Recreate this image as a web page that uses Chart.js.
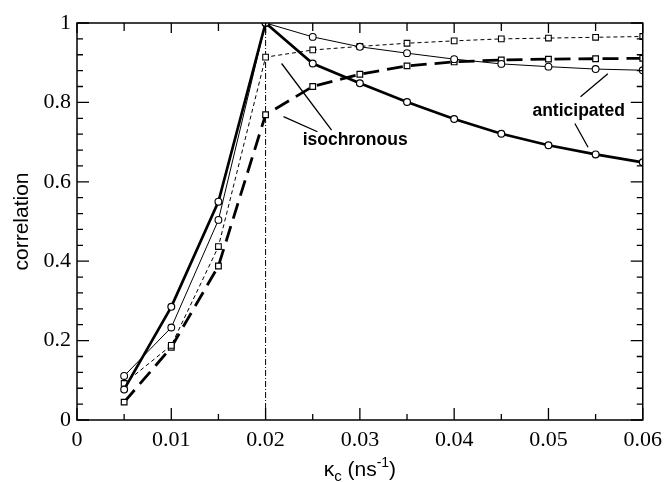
<!DOCTYPE html>
<html>
<head>
<meta charset="utf-8">
<script src="https://cdn.jsdelivr.net/npm/chart.js@4.4.0/dist/chart.umd.min.js"></script>
<style>
  html, body { margin: 0; padding: 0; background: #fff; }
  #wrap { width: 669px; height: 482px; }
</style>
</head>
<body>
<div id="wrap"><canvas id="corr" width="669" height="482"></canvas></div>
<script>
// coupling strength kappa_c (ns^-1)
const kappa = [0.005, 0.01, 0.015, 0.02, 0.025, 0.03, 0.035, 0.04, 0.045, 0.05, 0.055, 0.06];

// anticipated (circles, solid) / isochronous (squares, dashed)
const anticipatedThick = [0.077, 0.285, 0.550, 1.0, 0.898, 0.848, 0.801, 0.758, 0.721, 0.692, 0.669, 0.649];
const anticipatedThin  = [0.111, 0.233, 0.504, 1.0, 0.965, 0.940, 0.924, 0.909, 0.897, 0.890, 0.884, 0.881];
const isochronousThin  = [0.092, 0.188, 0.437, 0.914, 0.932, 0.941, 0.949, 0.955, 0.960, 0.962, 0.964, 0.966];
const isochronousThick = [0.045, 0.183, 0.388, 0.769, 0.840, 0.871, 0.892, 0.902, 0.907, 0.909, 0.910, 0.911];

// dash-dot marker at kappa = 0.02
const markerX = [0.02, 0.02];
const markerY = [0, 1];

// tick marks
const xMajor = [0, 0.01, 0.02, 0.03, 0.04, 0.05, 0.06];
const xMinor = [0.005, 0.015, 0.025, 0.035, 0.045, 0.055];
const yMajor = [0, 0.2, 0.4, 0.6, 0.8, 1];
const yMinor = [0.04, 0.08, 0.12, 0.16, 0.24, 0.28, 0.32, 0.36, 0.44, 0.48, 0.52, 0.56,
                0.64, 0.68, 0.72, 0.76, 0.84, 0.88, 0.92, 0.96];

// text labels with leader lines (data coords)
const notes = [
  { text: 'isochronous', x: 0.0295, y: 0.705,
    leaders: [[0.0219, 0.764, 0.0255, 0.726], [0.0217, 0.898, 0.0270, 0.730]] },
  { text: 'anticipated', x: 0.0532, y: 0.777,
    leaders: [[0.0534, 0.814, 0.0563, 0.872], [0.0528, 0.747, 0.0542, 0.687]] }
];

const pts = arr => kappa.map((k, i) => ({ x: k, y: arr[i] }));

const SANS = '"Liberation Sans", Arial, Helvetica, sans-serif';
const SERIF = '"Liberation Serif", "Times New Roman", serif';

const decorations = {
  id: 'decorations',
  beforeDraw(chart) {
    const ctx = chart.ctx;
    ctx.save();
    ctx.fillStyle = '#fff';
    ctx.fillRect(0, 0, chart.width, chart.height);
    ctx.restore();
  },
  afterDraw(chart) {
    const { ctx, chartArea: a, scales: { x, y } } = chart;
    ctx.save();
    ctx.strokeStyle = '#000';
    ctx.fillStyle = '#000';

    // frame
    ctx.lineWidth = 1.5;
    ctx.strokeRect(a.left, a.top, a.right - a.left, a.bottom - a.top);

    // inward ticks on all four sides
    ctx.lineWidth = 1.3;
    ctx.beginPath();
    xMajor.forEach(v => {
      const px = x.getPixelForValue(v);
      ctx.moveTo(px, a.bottom); ctx.lineTo(px, a.bottom - 12);
      ctx.moveTo(px, a.top); ctx.lineTo(px, a.top + 10);
    });
    xMinor.forEach(v => {
      const px = x.getPixelForValue(v);
      ctx.moveTo(px, a.bottom); ctx.lineTo(px, a.bottom - 6);
      ctx.moveTo(px, a.top); ctx.lineTo(px, a.top + 8);
    });
    yMajor.forEach(v => {
      const py = y.getPixelForValue(v);
      ctx.moveTo(a.left, py); ctx.lineTo(a.left + 12, py);
      ctx.moveTo(a.right, py); ctx.lineTo(a.right - 12, py);
    });
    yMinor.forEach(v => {
      const py = y.getPixelForValue(v);
      ctx.moveTo(a.left, py); ctx.lineTo(a.left + 6, py);
      ctx.moveTo(a.right, py); ctx.lineTo(a.right - 6, py);
    });
    ctx.stroke();

    // annotations
    ctx.lineWidth = 1.3;
    ctx.font = 'bold 17.5px ' + SANS;
    ctx.textAlign = 'center';
    ctx.textBaseline = 'middle';
    notes.forEach(n => {
      ctx.beginPath();
      n.leaders.forEach(l => {
        ctx.moveTo(x.getPixelForValue(l[0]), y.getPixelForValue(l[1]));
        ctx.lineTo(x.getPixelForValue(l[2]), y.getPixelForValue(l[3]));
      });
      ctx.stroke();
      ctx.fillText(n.text, x.getPixelForValue(n.x), y.getPixelForValue(n.y));
    });

    // y title
    ctx.save();
    ctx.translate(22, (a.top + a.bottom) / 2);
    ctx.rotate(-Math.PI / 2);
    ctx.font = '21px ' + SANS;
    ctx.fillText('correlation', 0, 0);
    ctx.restore();

    // x title: kappa_c (ns^-1)
    const parts = [
      ['\u03ba', 21, 0], ['c', 15, 5], [' (ns', 21, 0], ['-1', 14, -9], [')', 21, 0]
    ];
    ctx.textAlign = 'left';
    ctx.textBaseline = 'alphabetic';
    let total = 0;
    parts.forEach(p => { ctx.font = p[1] + 'px ' + SANS; total += ctx.measureText(p[0]).width; });
    let cx = (a.left + a.right) / 2 - total / 2;
    const base = 476;
    parts.forEach(p => {
      ctx.font = p[1] + 'px ' + SANS;
      ctx.fillText(p[0], cx, base + p[2]);
      cx += ctx.measureText(p[0]).width;
    });

    ctx.restore();
  }
};

const fmt = v => String(+v.toFixed(3));

new Chart(document.getElementById('corr'), {
  type: 'scatter',
  data: {
    datasets: [
      {
        label: 'anticipated (thick)', data: pts(anticipatedThick), showLine: true,
        borderColor: '#000', borderWidth: 2.7, pointStyle: 'circle', pointRadius: 3.4,
        pointBorderWidth: 1.2, pointBackgroundColor: '#fff', pointBorderColor: '#000'
      },
      {
        label: 'anticipated (thin)', data: pts(anticipatedThin), showLine: true,
        borderColor: '#000', borderWidth: 1, pointStyle: 'circle', pointRadius: 3.4,
        pointBorderWidth: 1.1, pointBackgroundColor: '#fff', pointBorderColor: '#000'
      },
      {
        label: 'isochronous (thin)', data: pts(isochronousThin), showLine: true,
        borderColor: '#000', borderWidth: 1, borderDash: [4, 3], pointStyle: 'rect',
        pointRadius: 4, pointBorderWidth: 1.1, pointBackgroundColor: '#fff', pointBorderColor: '#000'
      },
      {
        label: 'isochronous (thick)', data: pts(isochronousThick), showLine: true,
        borderColor: '#000', borderWidth: 2.8, borderDash: [16, 8], pointStyle: 'rect',
        pointRadius: 4, pointBorderWidth: 1.2, pointBackgroundColor: '#fff', pointBorderColor: '#000'
      },
      {
        label: 'marker', data: markerX.map((v, i) => ({ x: v, y: markerY[i] })), showLine: true,
        borderColor: '#000', borderWidth: 1, borderDash: [6, 2, 1, 2], pointRadius: 0
      }
    ]
  },
  options: {
    responsive: false,
    animation: false,
    layout: { padding: { top: 23, right: 25, left: 0, bottom: 0 } },
    plugins: { legend: { display: false }, tooltip: { enabled: false } },
    elements: { line: { tension: 0 } },
    scales: {
      x: {
        type: 'linear', min: 0, max: 0.06,
        grid: { display: false, drawTicks: false },
        border: { display: false },
        ticks: {
          stepSize: 0.01, padding: 7, color: '#000', maxRotation: 0, autoSkip: false,
          font: { family: SERIF, size: 22 }, callback: v => fmt(v)
        },
        afterFit: s => { s.height = 62; }
      },
      y: {
        type: 'linear', min: 0, max: 1,
        grid: { display: false, drawTicks: false },
        border: { display: false },
        ticks: {
          stepSize: 0.2, padding: 6, color: '#000', autoSkip: false,
          font: { family: SERIF, size: 22 }, callback: v => fmt(v)
        },
        afterFit: s => { s.width = 77; }
      }
    }
  },
  plugins: [decorations]
});
</script>
</body>
</html>
